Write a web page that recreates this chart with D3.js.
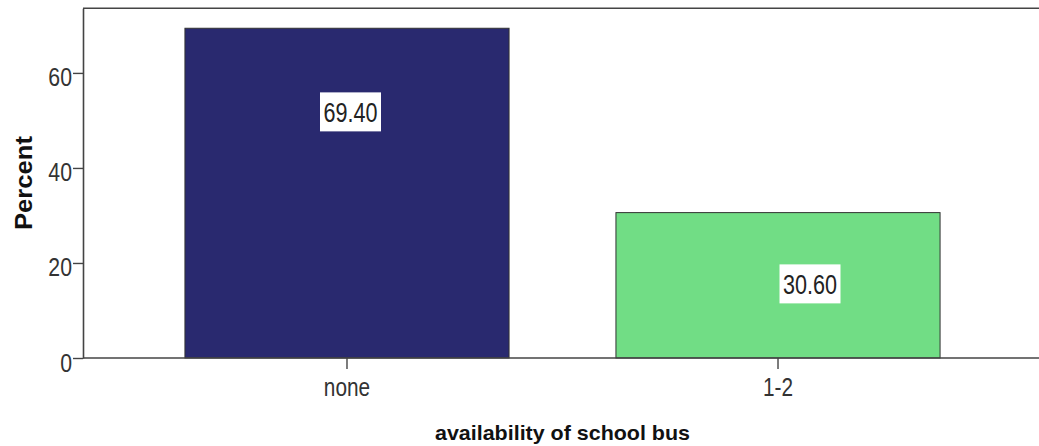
<!DOCTYPE html>
<html>
<head>
<meta charset="utf-8">
<script src="https://cdn.jsdelivr.net/npm/d3@7"></script>
<style>
  html, body { margin: 0; padding: 0; background: #fff; }
  svg { display: block; font-family: "Liberation Sans", Arial, sans-serif; }
</style>
</head>
<body>
<svg id="chart" width="1039" height="446"></svg>
<script>
// ---- data ----
const categories = ["none", "1-2"];
const percents = [69.40, 30.60];
const valueLabels = ["69.40", "30.60"];
const yTicks = [0, 20, 40, 60];
const yMax = 73.6;
const barColors = ["#29296f", "#71dd85"];
const xTitle = "availability of school bus";
const yTitle = "Percent";

// ---- layout ----
const W = 1039, H = 446;
const plotLeft = 83, plotRight = 1042, plotTop = 8.3, plotBottom = 358;
const svg = d3.select("#chart");

const x = d3.scaleBand().domain(categories).range([plotLeft, plotRight])
  .paddingInner(0.248).paddingOuter(0.2365);
const y = d3.scaleLinear().domain([0, yMax]).range([plotBottom, plotTop]);

function condense(sel, k) {
  sel.each(function () {
    const w = this.getComputedTextLength();
    this.setAttribute("textLength", w * k);
    this.setAttribute("lengthAdjust", "spacingAndGlyphs");
  });
}

// frame top line
svg.append("line")
  .attr("x1", plotLeft).attr("x2", W).attr("y1", y(yMax)).attr("y2", y(yMax))
  .attr("stroke", "#444").attr("stroke-width", 1.6);

// bars
svg.selectAll("rect.bar").data(categories).join("rect")
  .attr("class", "bar")
  .attr("x", d => x(d))
  .attr("y", (d, i) => y(percents[i]))
  .attr("width", x.bandwidth())
  .attr("height", (d, i) => y(0) - y(percents[i]))
  .attr("fill", (d, i) => barColors[i])
  .attr("stroke", "#333")
  .attr("stroke-width", 1);

// baseline extended to right edge
svg.append("line")
  .attr("x1", plotLeft).attr("x2", W).attr("y1", y(0)).attr("y2", y(0))
  .attr("stroke", "#444").attr("stroke-width", 1.6);

// y axis
const yAxis = svg.append("g")
  .attr("transform", `translate(${plotLeft},0)`)
  .call(d3.axisLeft(y).tickValues(yTicks).tickSize(10).tickSizeOuter(0).tickPadding(1));
yAxis.select(".domain").attr("stroke", "#444").attr("stroke-width", 1.6);
yAxis.selectAll(".tick line").attr("stroke", "#444").attr("stroke-width", 1.4);
yAxis.selectAll(".tick text")
  .attr("font-size", 25).attr("fill", "#333")
  .attr("font-family", "Liberation Sans, Arial, sans-serif")
  .attr("dy", "0.52em")
  .call(condense, 0.85);

// x axis
const xAxis = svg.append("g")
  .attr("transform", `translate(0,${plotBottom})`)
  .call(d3.axisBottom(x).tickSize(11).tickSizeOuter(0).tickPadding(9));
xAxis.select(".domain").remove();
xAxis.selectAll(".tick line").attr("stroke", "#444").attr("stroke-width", 1.4);
xAxis.selectAll(".tick text")
  .attr("font-size", 26).attr("fill", "#333")
  .attr("font-family", "Liberation Sans, Arial, sans-serif")
  .call(condense, 0.8);

// value labels (box centres: offsets from bar centre / value position)
const labelAnchor = [
  { dx: 3.5, v: 51.8 },
  { dx: 32, v: 15.6 }
];
const lbl = svg.selectAll("g.vlabel").data(categories).join("g")
  .attr("class", "vlabel")
  .attr("transform", (d, i) =>
    `translate(${x(d) + x.bandwidth() / 2 + labelAnchor[i].dx},${y(labelAnchor[i].v)})`);
lbl.append("rect")
  .attr("x", -30.5).attr("y", -19.5).attr("width", 61).attr("height", 39)
  .attr("fill", "#fff");
lbl.append("text")
  .attr("text-anchor", "middle")
  .attr("dy", "0.36em")
  .attr("font-size", 28)
  .attr("fill", "#222")
  .text((d, i) => valueLabels[i])
  .call(condense, 0.77);

// axis titles
svg.append("text")
  .attr("x", (plotLeft + plotRight) / 2).attr("y", 440)
  .attr("text-anchor", "middle")
  .attr("font-size", 21).attr("font-weight", "bold").attr("fill", "#111")
  .attr("textLength", 255).attr("lengthAdjust", "spacingAndGlyphs")
  .text(xTitle);

svg.append("text")
  .attr("transform", "translate(32,183) rotate(-90)")
  .attr("text-anchor", "middle")
  .attr("font-size", 23).attr("font-weight", "bold").attr("fill", "#111")
  .attr("textLength", 94).attr("lengthAdjust", "spacingAndGlyphs")
  .text(yTitle);
</script>
</body>
</html>
